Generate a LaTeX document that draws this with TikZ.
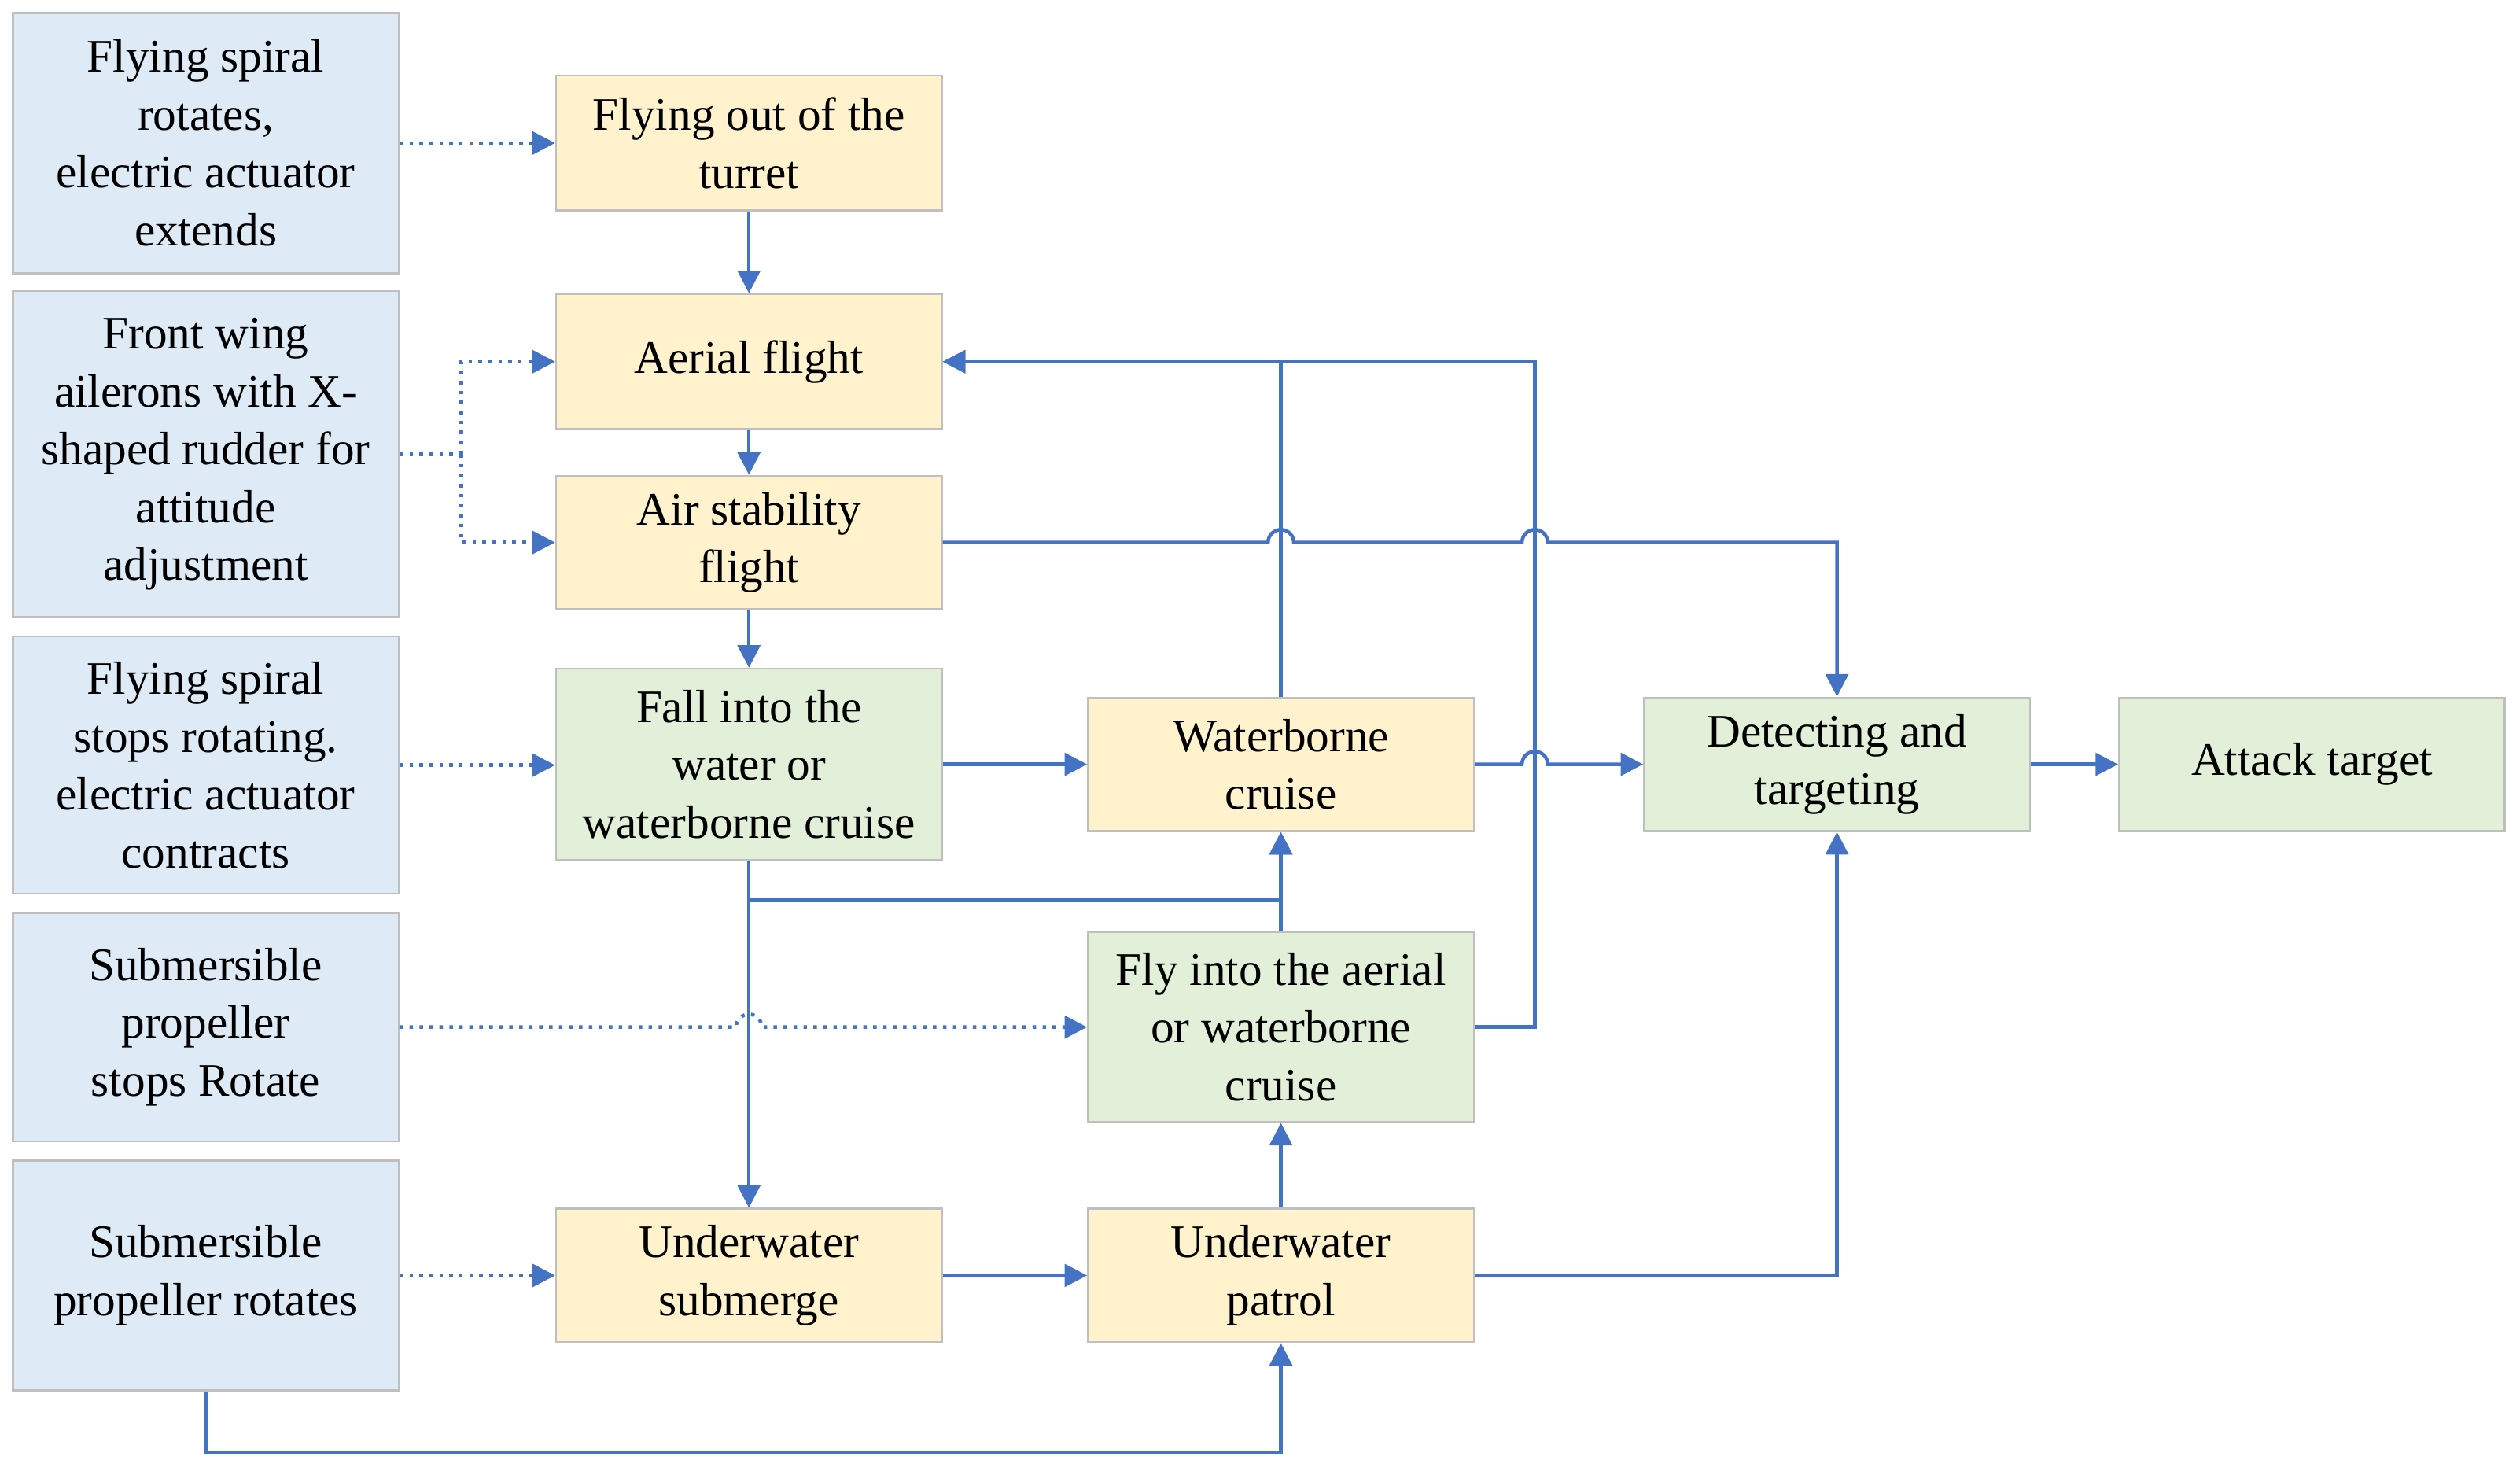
\documentclass[tikz,border=0pt]{standalone}
\usepackage{fontspec}
\setmainfont{Liberation Serif}
\usetikzlibrary{arrows.meta}
\begin{document}
\begin{tikzpicture}[x=0.5pt,y=0.5pt,yscale=-1,
  box/.style={draw=black!25,line width=0.6pt,align=center,inner sep=1pt,
    font=\fontsize{14.5}{18}\selectfont,minimum width=120pt},
  blue/.style={box,fill={rgb,255:red,222;green,235;blue,247}},
  yel/.style={box,fill={rgb,255:red,255;green,242;blue,204}},
  grn/.style={box,fill={rgb,255:red,226;green,240;blue,217}},
  ln/.style={draw={rgb,255:red,68;green,114;blue,196},line width=1.1pt},
  arr/.style={ln,-{Triangle[length=7pt,width=7pt]}},
  dot/.style={arr,dotted}]
\useasboundingbox (0,0) rectangle (1568,915);
% left column
\node[blue,minimum height=81pt] (b1) at (128,89) {Flying spiral\\rotates,\\electric actuator\\extends};
\node[blue,minimum height=101.5pt] (b2) at (128,282.5) {Front wing\\ailerons with X-\\shaped rudder for\\attitude\\adjustment};
\node[blue,minimum height=80pt] (b3) at (128,476) {Flying spiral\\stops rotating.\\electric actuator\\contracts};
\node[blue,minimum height=71pt] (b4) at (128,639) {Submersible\\propeller\\stops Rotate};
\node[blue,minimum height=71.5pt] (b5) at (128,793.5) {Submersible\\propeller rotates};
% second column
\node[yel,minimum height=42pt] (out) at (466,89) {Flying out of the\\turret};
\node[yel,minimum height=42pt] (air) at (466,225) {Aerial flight};
\node[yel,minimum height=41.5pt] (stab) at (466,337.5) {Air stability\\flight};
\node[grn,minimum height=59.5pt] (fall) at (466,475.5) {Fall into the\\water or\\waterborne cruise};
\node[yel,minimum height=41.5pt] (sub) at (466,793.5) {Underwater\\submerge};
% third column
\node[yel,minimum height=41.5pt] (wat) at (797,475.5) {Waterborne\\cruise};
\node[grn,minimum height=59pt] (fly) at (797,639) {Fly into the aerial\\or waterborne\\cruise};
\node[yel,minimum height=41.5pt] (pat) at (797,793.5) {Underwater\\patrol};
% right
\node[grn,minimum height=41.5pt] (det) at (1143,475.5) {Detecting and\\targeting};
\node[grn,minimum height=41.5pt] (att) at (1438.5,475.5) {Attack target};
\coordinate (j2) at (287,282.5);
% dotted links
\draw[dot] (b1) -- (out);
\draw[ln,dotted] (b2.east) -- (j2);
\draw[dot] (j2) |- (air.west);
\draw[dot] (j2) |- (stab.west);
\draw[dot] (b3.east) -- (fall.west |- b3.east);
\draw[dot] (b4.east) -- (458,639) arc[start angle=180,end angle=360,radius=8] -- (fly.west);
\draw[dot] (b5) -- (sub);
% main flow
\draw[arr] (out) -- (air);
\draw[arr] (air) -- (stab);
\draw[arr] (stab) -- (fall);
\draw[arr] (fall) -- (wat);
\draw[arr] (fall.south) -- (sub.north);
\draw[arr] (fall.south) -- (466,560) -| (wat.south);
\draw[arr] (fly) -- (wat);
\draw[arr] (sub) -- (pat);
\draw[arr] (pat) -- (fly);
\draw[arr] (wat.north) |- (air.east);
\draw[arr] (fly.east) -- (955,639) |- (air.east);
\draw[arr] (stab.east) -- (789,337.5) arc[start angle=180,end angle=360,radius=8]
  -- (947,337.5) arc[start angle=180,end angle=360,radius=8] -| (det.north);
\draw[arr] (wat.east) -- (947,475.5) arc[start angle=180,end angle=360,radius=8] -- (det.west);
\draw[arr] (pat.east) -| (det.south);
\draw[arr] (b5.south) -- (128,904) -| (pat.south);
\draw[arr] (det) -- (att);
\end{tikzpicture}
\end{document}
